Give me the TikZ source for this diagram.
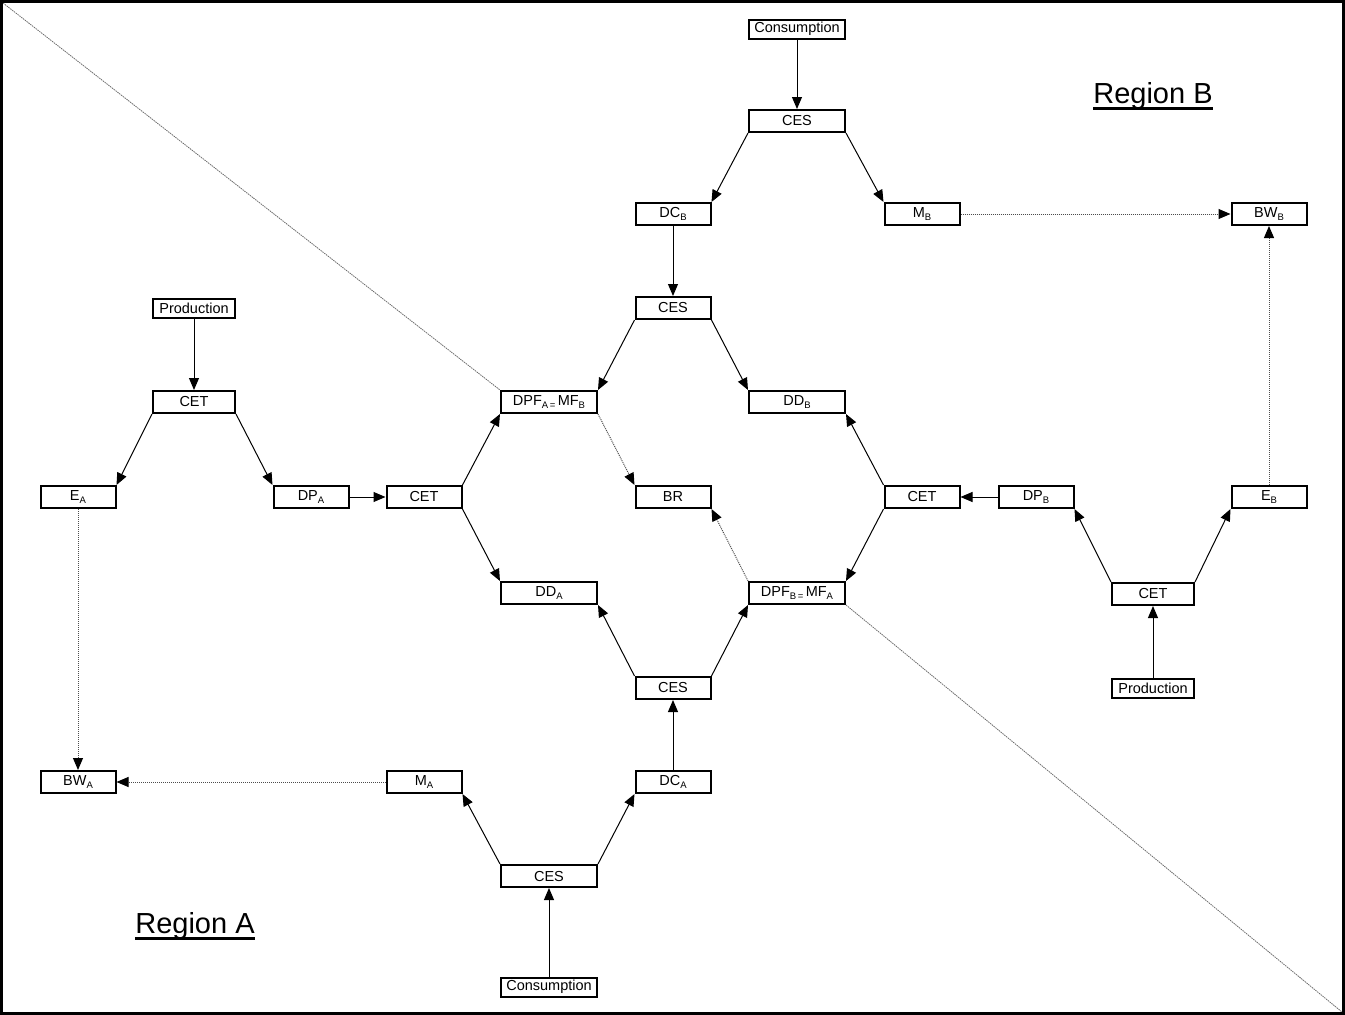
\documentclass[tikz,border=0pt]{standalone}
\usepackage{fontspec}
\setmainfont{Liberation Sans}
\usetikzlibrary{arrows.meta,backgrounds}
\newcommand\sbs[1]{\raisebox{-0.3ex}{\fontsize{9.5}{9.5}\selectfont #1}}
\newcommand\ulreg[1]{\setbox0\hbox{#1}\leavevmode\rlap{\rule[-6.5pt]{\wd0}{2.5pt}}\box0}
\begin{document}
\begin{tikzpicture}[x=1pt,y=-1pt,
 bx/.style={draw, line width=2pt, fill=white, inner sep=0pt, minimum height=22pt, font=\fontsize{14.5}{14.5}\selectfont},
 sm/.style={bx, minimum width=75pt},
 md/.style={bx, minimum width=96pt},
 lg/.style={bx, minimum width=82pt},
 tl/.style={minimum height=19pt},
 ar/.style={line width=1pt, -{Triangle[length=12pt,width=10pt]}},
 dt/.style={line width=1pt, gray!60!black, dash pattern=on 1pt off 1pt, -{Triangle[length=12pt,width=10pt,color=black]}},
 diag/.style={line width=0.8pt, gray!85!black, dash pattern=on 1.5pt off 0.8pt},
 reg/.style={font=\fontsize{29}{29}\selectfont, anchor=base, inner sep=0pt}
]
\useasboundingbox (0,0) rectangle (1345,1015);
\draw[line width=3pt] (1.5,1.5) rectangle (1343.5,1013.5);
\coordinate (c1) at (3,3);
\coordinate (c2) at (1342,1012);

\node[md,tl] (consB) at (797,29) {Consumption};
\node[md] (cesB) at (797,121) {CES};
\node[sm] (dcB) at (673,214) {DC\sbs{B}};
\node[sm] (mB) at (922,214) {M\sbs{B}};
\node[sm] (bwB) at (1269,214) {BW\sbs{B}};
\node[sm] (cesBm) at (673,308) {CES};
\node[lg,tl] (prodA) at (194,308) {Production};
\node[lg] (cetA) at (194,402) {CET};
\node[md] (dpfA) at (549,402) {DPF\sbs{A\,=}\,MF\sbs{B}};
\node[md] (ddB) at (797,402) {DD\sbs{B}};
\node[sm] (eA) at (78,497) {E\sbs{A}};
\node[sm] (dpA) at (311,497) {DP\sbs{A}};
\node[sm] (cetAm) at (424,497) {CET};
\node[sm] (br) at (673,497) {BR};
\node[sm] (cetBm) at (922,497) {CET};
\node[sm] (dpB) at (1036,497) {DP\sbs{B}};
\node[sm] (eB) at (1269,497) {E\sbs{B}};
\node[md] (ddA) at (549,593) {DD\sbs{A}};
\node[md] (dpfB) at (797,593) {DPF\sbs{B\,=}\,MF\sbs{A}};
\node[lg] (cetB) at (1153,594) {CET};
\node[sm] (cesAm) at (673,688) {CES};
\node[lg,tl] (prodB) at (1153,688) {Production};
\node[sm] (bwA) at (78,782) {BW\sbs{A}};
\node[sm] (mA) at (424,782) {M\sbs{A}};
\node[sm] (dcA) at (673,782) {DC\sbs{A}};
\node[md] (cesA) at (549,876) {CES};
\node[md,tl] (consA) at (549,987) {Consumption};

\node[reg] (regB) at (1153,103) {\ulreg{Region B}};
\node[reg] (regA) at (195,933) {\ulreg{Region A}};

\begin{scope}[on background layer]
\draw[diag] (c1) -- (dpfA.north west);
\draw[diag] (dpfB.south east) -- (c2);
\end{scope}

\draw[ar] (consB) -- (cesB);
\draw[ar] (cesB.south west) -- (dcB.north east);
\draw[ar] (cesB.south east) -- (mB.north west);
\draw[ar] (dcB) -- (cesBm);
\draw[ar] (cesBm.south west) -- (dpfA.north east);
\draw[ar] (cesBm.south east) -- (ddB.north west);
\draw[ar] (prodA) -- (cetA);
\draw[ar] (cetA.south west) -- (eA.north east);
\draw[ar] (cetA.south east) -- (dpA.north west);
\draw[ar] (dpA) -- (cetAm);
\draw[ar] (cetAm.north east) -- (dpfA.south west);
\draw[ar] (cetAm.south east) -- (ddA.north west);
\draw[ar] (cetBm.north west) -- (ddB.south east);
\draw[ar] (cetBm.south west) -- (dpfB.north east);
\draw[ar] (dpB) -- (cetBm);
\draw[ar] (cetB.north west) -- (dpB.south east);
\draw[ar] (cetB.north east) -- (eB.south west);
\draw[ar] (prodB) -- (cetB);
\draw[ar] (cesAm.north west) -- (ddA.south east);
\draw[ar] (cesAm.north east) -- (dpfB.south west);
\draw[ar] (dcA) -- (cesAm);
\draw[ar] (cesA.north west) -- (mA.south east);
\draw[ar] (cesA.north east) -- (dcA.south west);
\draw[ar] (consA) -- (cesA);

\draw[dt] (mB) -- (bwB);
\draw[dt] (eB) -- (bwB);
\draw[dt] (eA) -- (bwA);
\draw[dt] (mA) -- (bwA);
\draw[dt] (dpfA.south east) -- (br.north west);
\draw[dt] (dpfB.north west) -- (br.south east);
\end{tikzpicture}
\end{document}
